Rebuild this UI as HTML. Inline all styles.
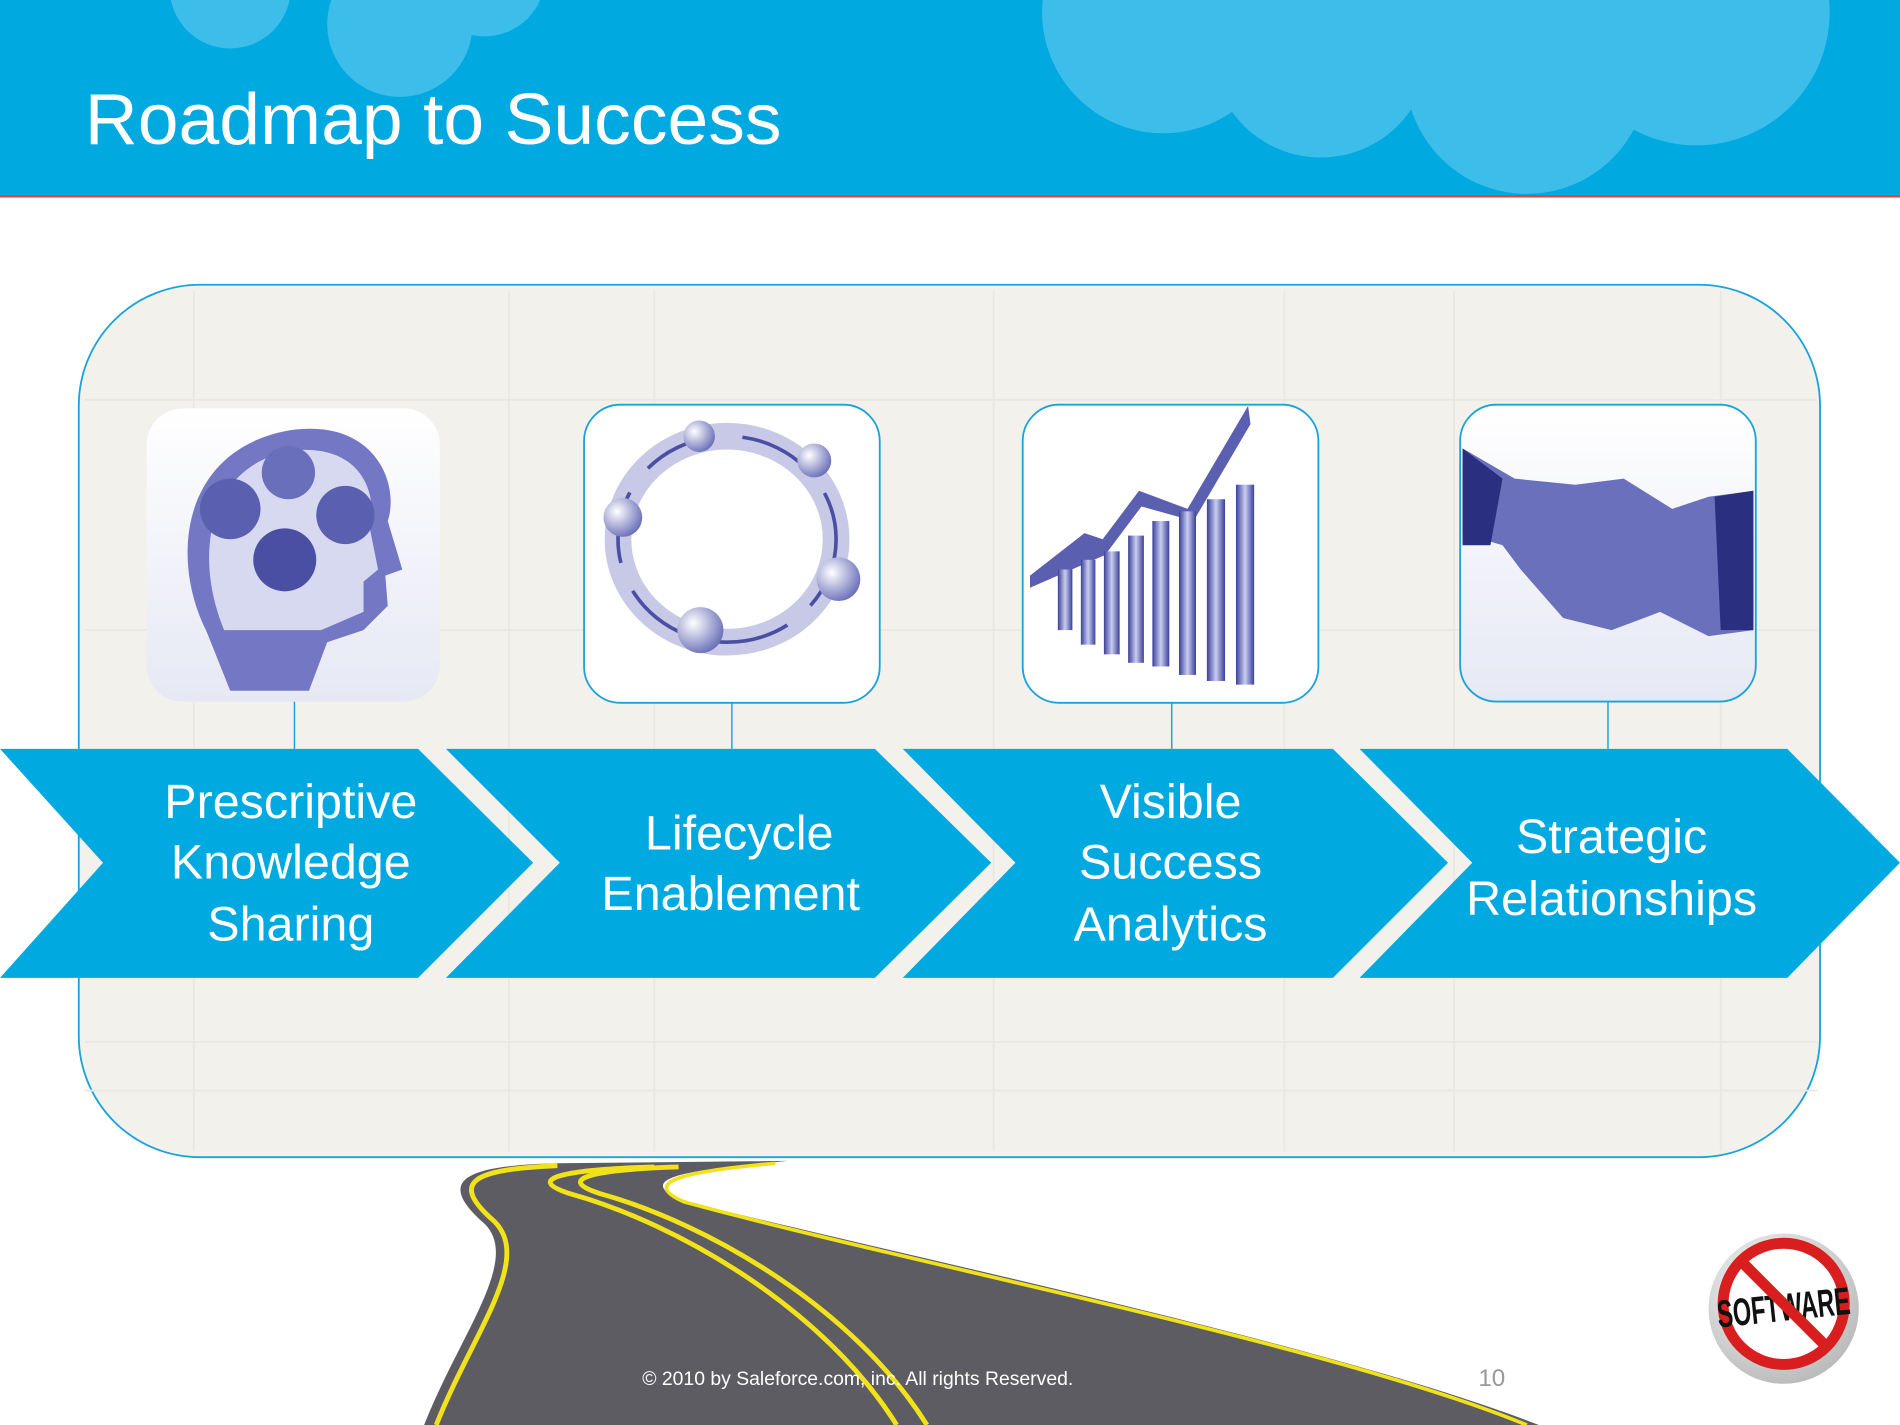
<!DOCTYPE html>
<html><head><meta charset="utf-8"><style>
html,body{margin:0;padding:0;width:1900px;height:1425px;overflow:hidden;background:#fff}
svg{display:block}
text{font-family:"Liberation Sans",Arial,sans-serif}
</style></head><body>
<svg width="1900" height="1425" viewBox="0 0 1568 1176" xmlns="http://www.w3.org/2000/svg">
<defs>
<linearGradient id="box" x1="0" y1="0" x2="0" y2="1"><stop offset="0" stop-color="#ffffff"/><stop offset="1" stop-color="#e6e8f4"/></linearGradient>
<linearGradient id="bar" x1="0" y1="0" x2="1" y2="0"><stop offset="0" stop-color="#3a3f9a"/><stop offset="0.5" stop-color="#c9cdf0"/><stop offset="1" stop-color="#3a3f9a"/></linearGradient>
<radialGradient id="ball" cx="0.35" cy="0.35" r="0.7"><stop offset="0" stop-color="#ffffff"/><stop offset="1" stop-color="#6a6fb8"/></radialGradient>
<radialGradient id="logo" cx="0.4" cy="0.35" r="0.7"><stop offset="0" stop-color="#ffffff"/><stop offset="1" stop-color="#b8b8b8"/></radialGradient>
</defs>
<rect x="0" y="0" width="1568" height="162" fill="#00a9e0"/>
<g fill="#3dbde9">
<circle cx="190" cy="-10" r="50"/><circle cx="330" cy="20" r="60"/><circle cx="400" cy="-20" r="50"/>
<circle cx="960" cy="10" r="100"/><circle cx="1090" cy="40" r="90"/><circle cx="1260" cy="60" r="100"/><circle cx="1400" cy="10" r="110"/><circle cx="1180" cy="-20" r="90"/>
</g>
<rect x="0" y="161" width="1568" height="2" fill="#e0463b"/>
<text x="70" y="119" font-size="60" fill="#ffffff" textLength="575" lengthAdjust="spacingAndGlyphs">Roadmap to Success</text>
<rect x="65" y="235" width="1437" height="720" rx="100" fill="#f3f1ec" stroke="#1aa3db" stroke-width="1.5"/>
<g stroke="#ebe8e2" stroke-width="1.5">
<line x1="70" y1="330" x2="1500" y2="330"/><line x1="70" y1="520" x2="1500" y2="520"/><line x1="70" y1="860" x2="1500" y2="860"/><line x1="70" y1="900" x2="1500" y2="900"/>
<line x1="160" y1="240" x2="160" y2="950"/><line x1="420" y1="240" x2="420" y2="950"/><line x1="540" y1="240" x2="540" y2="950"/><line x1="820" y1="240" x2="820" y2="950"/><line x1="1060" y1="240" x2="1060" y2="950"/><line x1="1200" y1="240" x2="1200" y2="950"/><line x1="1420" y1="240" x2="1420" y2="950"/>
</g>
<g stroke="#1aa3db" stroke-width="1.2">
<line x1="243" y1="579" x2="243" y2="620"/><line x1="604" y1="580" x2="604" y2="620"/><line x1="967" y1="580" x2="967" y2="620"/><line x1="1327" y1="579" x2="1327" y2="620"/>
</g>
<rect x="121" y="337" width="242" height="242" rx="30" fill="url(#box)"/>
<path d="M170 520 C140 460 150 370 240 355 C310 345 330 400 320 430 L332 470 L318 475 L320 500 L300 520 L270 530 L255 570 L190 570 Z" fill="#7478c4"/>
<path d="M185 520 C160 460 170 385 240 372 C300 365 312 410 305 435 L312 470 L300 480 L300 505 L265 520 Z" fill="#d7d9f0"/>
<circle cx="190" cy="420" r="25" fill="#5a5fb0"/><circle cx="238" cy="390" r="22" fill="#6a6fbc"/><circle cx="285" cy="425" r="24" fill="#5a5fb0"/><circle cx="235" cy="462" r="26" fill="#4a4fa3"/>
<rect x="482" y="334" width="244" height="246" rx="30" fill="#fff" stroke="#1aa3db" stroke-width="1.5"/>
<ellipse cx="600" cy="445" rx="90" ry="85" fill="none" stroke="#c7c9e6" stroke-width="22"/>
<ellipse cx="600" cy="445" rx="90" ry="85" fill="none" stroke="#4a4fa3" stroke-width="3" stroke-dasharray="60 25"/>
<circle cx="577" cy="360" r="13" fill="url(#ball)"/><circle cx="672" cy="380" r="14" fill="url(#ball)"/><circle cx="514" cy="427" r="16" fill="url(#ball)"/><circle cx="692" cy="478" r="18" fill="url(#ball)"/><circle cx="578" cy="520" r="19" fill="url(#ball)"/>
<rect x="844" y="334" width="244" height="246" rx="30" fill="#fff" stroke="#1aa3db" stroke-width="1.5"/>
<path d="M850 475 L895 440 L910 445 L940 405 L980 420 L1030 335 L1032 350 L985 430 L942 418 L912 458 L850 485Z" fill="#5a5fb0"/>
<g fill="url(#bar)"><rect x="873" y="470" width="12" height="50"/><rect x="892" y="462" width="12" height="70"/><rect x="911" y="455" width="13" height="85"/><rect x="931" y="442" width="13" height="105"/><rect x="951" y="430" width="14" height="120"/><rect x="973" y="422" width="14" height="135"/><rect x="996" y="412" width="15" height="150"/><rect x="1020" y="400" width="15" height="165"/></g>
<rect x="1205" y="334" width="244" height="245" rx="30" fill="url(#box)" stroke="#1aa3db" stroke-width="1.5"/>
<path d="M1207 370 L1250 395 L1300 400 L1340 395 L1380 420 L1410 410 L1447 405 L1447 520 L1410 525 L1370 505 L1330 520 L1290 510 L1255 470 L1240 450 L1207 440Z" fill="#6b70bd"/>
<path d="M1207 370 L1240 395 L1230 450 L1207 450Z" fill="#2a2f80"/><path d="M1447 405 L1415 410 L1420 520 L1447 520Z" fill="#2a2f80"/>
<g fill="#00a9e0">
<polygon points="0,618 345,618 440,712 345,807 0,807 85,712"/>
<polygon points="368,618 722,618 818,712 722,807 368,807 462,712"/>
<polygon points="745,618 1100,618 1195,712 1100,807 745,807 838,712"/>
<polygon points="1122,618 1475,618 1568,712 1475,807 1122,807 1215,712"/>
</g>
<g fill="#fff" font-size="40" text-anchor="middle">
<text x="240" y="675">Prescriptive</text><text x="240" y="725">Knowledge</text><text x="240" y="776">Sharing</text>
<text x="610" y="701">Lifecycle</text><text x="603" y="751">Enablement</text>
<text x="966" y="675">Visible</text><text x="966" y="725">Success</text><text x="966" y="776">Analytics</text>
<text x="1330" y="704">Strategic</text><text x="1330" y="755">Relationships</text>
</g>
<path d="M350 1176 C380 1100 430 1040 400 1010 C360 975 380 962 460 960 L650 958 C580 965 520 970 560 990 C760 1040 1100 1110 1270 1176Z" fill="#5c5c62"/>
<path d="M360 1176 C390 1100 440 1040 408 1008 C370 975 390 965 460 962" fill="none" stroke="#f2e21a" stroke-width="4"/>
<path d="M1260 1176 C1100 1110 760 1045 565 992 C525 975 570 966 640 960" fill="none" stroke="#f2e21a" stroke-width="3"/>
<path d="M740 1176 C680 1080 560 1010 470 985 C430 972 470 965 540 963" fill="none" stroke="#f2e21a" stroke-width="4"/>
<path d="M765 1176 C705 1080 585 1010 495 985 C455 972 495 965 560 963" fill="none" stroke="#f2e21a" stroke-width="4"/>
<text x="530" y="1143" font-size="16" fill="#ffffff">© 2010 by Saleforce.com, inc. All rights Reserved.</text>
<text x="1220" y="1144" font-size="20" fill="#999">10</text>
<circle cx="1472" cy="1080" r="62" fill="url(#logo)"/>
<circle cx="1472" cy="1076" r="50" fill="#fff" stroke="#d81e1e" stroke-width="9"/>
<text x="1472" y="1090" font-size="32" font-weight="bold" text-anchor="middle" fill="#111" textLength="110" lengthAdjust="spacingAndGlyphs" transform="rotate(-6 1472 1080)">SOFTWARE</text>
<line x1="1437" y1="1041" x2="1507" y2="1111" stroke="#d81e1e" stroke-width="9"/>
</svg>
</body></html>
